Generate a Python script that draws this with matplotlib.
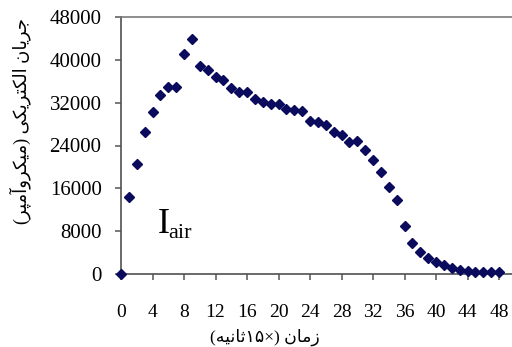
import matplotlib.pyplot as plt
import matplotlib as mp

mp.rcParams['font.family'] = ['Liberation Serif', 'DejaVu Sans']

time_steps = list(range(49))
current = [0, 14400, 20600, 26600, 30200, 33400, 35000, 35000, 41000, 43800,
           38800, 38100, 36800, 36200, 34800, 34000, 33900, 32700, 32200, 31800,
           31700, 30800, 30700, 30400, 28600, 28400, 27900, 26500, 25900, 24600,
           24800, 23200, 21200, 19000, 16200, 13800, 9000, 5750, 4200, 2950,
           2200, 1600, 1200, 800, 600, 430, 400, 300, 300]
x_ticks = list(range(0, 49, 4))
y_ticks = list(range(0, 48001, 8000))
y_label = 'جریان الکتریکی (میکروآمپر)'
x_label = 'زمان (×۱۵ثانیه)'

# contextual forms: isolated, final, initial, medial
forms = {
    'ج': '\uFE9D\uFE9E\uFE9F\uFEA0',
    'ر': '\uFEAD\uFEAE',
    'ز': '\uFEAF\uFEB0',
    'ی': '\uFEEF\uFEF0\uFEF3\uFEF4',
    'ا': '\uFE8D\uFE8E',
    'آ': '\uFE81\uFE82',
    'ن': '\uFEE5\uFEE6\uFEE7\uFEE8',
    'ل': '\uFEDD\uFEDE\uFEDF\uFEE0',
    'ک': '\uFB8E\uFB8F\uFB90\uFB91',
    'ت': '\uFE95\uFE96\uFE97\uFE98',
    'ث': '\uFE99\uFE9A\uFE9B\uFE9C',
    'م': '\uFEE1\uFEE2\uFEE3\uFEE4',
    'و': '\uFEED\uFEEE',
    'پ': '\uFB56\uFB57\uFB58\uFB59',
    'ه': '\uFEE9\uFEEA\uFEEB\uFEEC',
}


def shape(text):
    out = []
    for i, c in enumerate(text):
        if c not in forms:
            out.append(c)
            continue
        prev = text[i - 1] if i > 0 else ''
        nxt = text[i + 1] if i + 1 < len(text) else ''
        join_prev = prev in forms and len(forms[prev]) == 4
        join_next = nxt in forms and len(forms[c]) == 4
        f = forms[c]
        if join_prev and join_next:
            out.append(f[3])
        elif join_prev:
            out.append(f[1])
        elif join_next:
            out.append(f[2])
        else:
            out.append(f[0])
    # visual order: reverse, keep digit runs left to right, mirror brackets
    out = out[::-1]
    res, run = [], []
    for c in out:
        if c.isdigit():
            run.append(c)
        else:
            res += run[::-1]
            run = []
            res.append({'(': ')', ')': '('}.get(c, c))
    res += run[::-1]
    return ''.join(res)


fig = plt.figure(figsize=(5.12, 3.47), dpi=100)
ax = fig.add_axes([121 / 512, 73 / 347, 391 / 512, 257 / 347])
ax.plot(time_steps, current, 'D', color='#0b0b5e', markersize=4.8, clip_on=False, zorder=3)
ax.set_xlim(0, 48 * 391 / 378)
ax.set_ylim(0, 48000)
ax.set_xticks(x_ticks)
ax.set_yticks(y_ticks)
ax.tick_params(length=4.5, width=1.1, color='#555555')
ax.tick_params(axis='x', labelsize=14, pad=17)
ax.tick_params(axis='y', labelsize=15, pad=9.5)
for side in ['left', 'bottom']:
    ax.spines[side].set_color('#505050')
    ax.spines[side].set_linewidth(1.2)
ax.spines['top'].set_color('#7a7a7a')
ax.spines['top'].set_linewidth(1.2)
ax.spines['right'].set_visible(False)

ax.text(0.093, 0.16, 'I', fontsize=26, transform=ax.transAxes, family='Liberation Serif')
ax.text(0.12, 0.14, 'air', fontsize=16, transform=ax.transAxes, family='Liberation Serif')

fig.text(20 / 512, 1 - 121 / 347, shape(y_label), rotation=90, fontsize=13,
         ha='center', va='center')
fig.text(265 / 512, 1 - 337 / 347, shape(x_label), fontsize=12.5,
         ha='center', va='center')

plt.savefig('out.png', dpi=100)
